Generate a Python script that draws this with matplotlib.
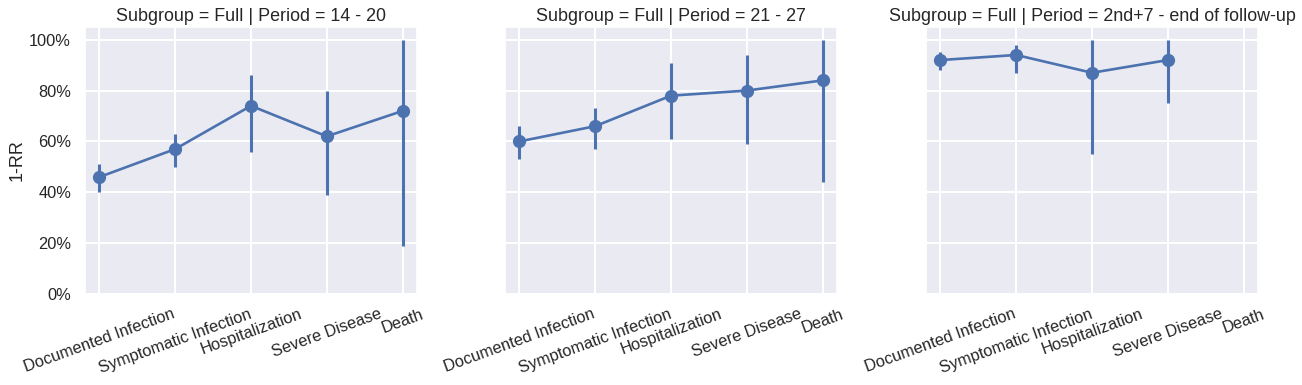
import numpy as np
import matplotlib
matplotlib.use("Agg")
import matplotlib.pyplot as plt
from matplotlib.ticker import PercentFormatter
import seaborn as sns

outcomes = ["Documented Infection", "Symptomatic Infection", "Hospitalization",
            "Severe Disease", "Death"]
periods = ["14 - 20", "21 - 27", "2nd+7 - end of follow-up"]

est_p1 = [0.46, 0.57, 0.74, 0.62, 0.72]
lo_p1 = [0.40, 0.50, 0.56, 0.39, 0.19]
hi_p1 = [0.51, 0.63, 0.86, 0.80, 1.00]

est_p2 = [0.60, 0.66, 0.78, 0.80, 0.84]
lo_p2 = [0.53, 0.57, 0.61, 0.59, 0.44]
hi_p2 = [0.66, 0.73, 0.91, 0.94, 1.00]

est_p3 = [0.92, 0.94, 0.87, 0.92, np.nan]
lo_p3 = [0.88, 0.87, 0.55, 0.75, np.nan]
hi_p3 = [0.95, 0.98, 1.00, 1.00, np.nan]

ests = [est_p1, est_p2, est_p3]
los = [lo_p1, lo_p2, lo_p3]
his = [hi_p1, hi_p2, hi_p3]

sns.set_theme(style="darkgrid")
plt.rcParams["font.family"] = ["Liberation Sans", "DejaVu Sans"]
plt.rcParams["grid.linewidth"] = 1.5

color = "#4C72B0"
fig = plt.figure(figsize=(13.02, 3.85), dpi=100)
lefts = [85, 505, 926]
W, H = 1302, 385
axes = []
for i, left in enumerate(lefts):
    ax = fig.add_axes([left / W, 1 - 294 / H, 332 / W, 267 / H])
    axes.append(ax)
    x = np.arange(len(outcomes))
    e = np.array(ests[i], dtype=float)
    lo = np.array(los[i], dtype=float)
    hi = np.array(his[i], dtype=float)
    for xi, l, h in zip(x, lo, hi):
        if not np.isnan(l):
            ax.plot([xi, xi], [l, h], color=color, lw=2.2, solid_capstyle="butt", zorder=3)
    m = ~np.isnan(e)
    ax.plot(x[m], e[m], color=color, lw=1.9, marker="o", markersize=8.5, zorder=4)
    ax.set_xlim(-0.19, 4.19)
    ax.set_ylim(0, 1.05)
    ax.set_yticks([0, 0.2, 0.4, 0.6, 0.8, 1.0])
    ax.yaxis.set_major_formatter(PercentFormatter(1.0, decimals=0))
    ax.set_xticks(x)
    ax.set_xticklabels(outcomes, rotation=20, fontsize=11.8, color="0.15")
    ax.tick_params(axis="y", labelsize=11.8, labelcolor="0.15", pad=10)
    ax.tick_params(axis="x", pad=9)
    ax.tick_params(axis="both", length=0)
    ax.set_title(f"Subgroup = Full | Period = {periods[i]}", fontsize=12.9, color="0.15", pad=4)
    if i == 0:
        ax.set_ylabel("1-RR", fontsize=13, color="0.15", labelpad=2.5)
    else:
        ax.tick_params(axis="y", labelleft=False)

fig.savefig("out.png", dpi=100)
